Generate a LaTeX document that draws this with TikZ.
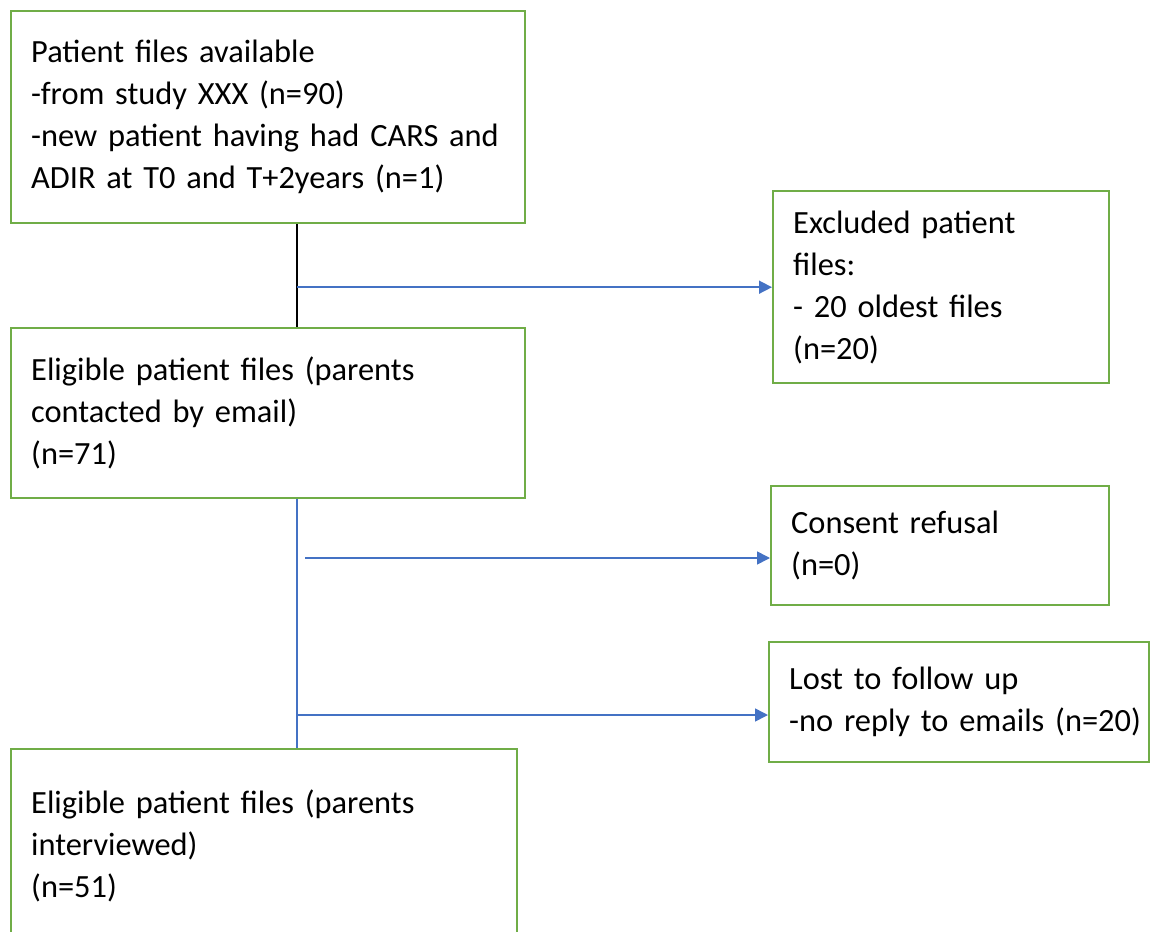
\documentclass[tikz,border=0pt]{standalone}
\usepackage{fontspec}
\setmainfont{Carlito}
\usetikzlibrary{arrows.meta}
\definecolor{boxgreen}{RGB}{112,173,71}
\definecolor{arrowblue}{RGB}{68,114,196}

\begin{document}
\begin{tikzpicture}[
      x=0.5pt,y=-0.5pt,
      flowbox/.style={
         rectangle,
         draw=boxgreen,
         line width=1.2pt,
         anchor=north west,
         align=left,
         inner xsep=10pt,
         inner ysep=2pt,
         font=\fontsize{16.2}{21}\selectfont},
      trunk/.style={line width=0.8pt},
      myarrow/.style={draw=arrowblue,line width=0.8pt,-{Triangle[length=6.5pt,width=6.5pt]}},
      ]
      \useasboundingbox (0,0) rectangle (1150,931);
      \node[flowbox,minimum width=257pt,minimum height=106pt,text width=237pt] (avail) at (10,10)
         {Patient files available\\-from study XXX (n=90)\\\mbox{-new patient having had CARS and}\\ADIR at T0 and T+2years (n=1)};
      \node[flowbox,minimum width=168pt,minimum height=96pt,text width=148pt] (excl) at (772,190)
         {Excluded patient\\files:\\- 20 oldest files\\(n=20)};
      \node[flowbox,minimum width=257pt,minimum height=85pt,text width=237pt] (elig) at (10,327)
         {Eligible patient files (parents\\contacted by email)\\(n=71)};
      \node[flowbox,minimum width=169pt,minimum height=59.5pt,text width=149pt] (refusal) at (770,485)
         {Consent refusal\\(n=0)};
      \node[flowbox,minimum width=190pt,minimum height=60pt,text width=170pt] (lost) at (768,641)
         {Lost to follow up\\\mbox{-no reply to emails (n=20)}};
      \node[flowbox,minimum width=253pt,minimum height=97pt,text width=233pt] (interv) at (10,748)
         {Eligible patient files (parents\\interviewed)\\(n=51)};
      % trunk lines and side exits
      \coordinate (sx) at (297,0);
      \coordinate (j2) at (305,558);
      \coordinate (j3) at (297,715);
      \draw[trunk] (avail.south -| sx) -- (elig.north -| sx);
      \draw[trunk,arrowblue] (elig.south -| sx) -- (interv.north -| sx);
      \draw[myarrow] (sx |- excl.west) -- (excl.west);
      \draw[myarrow] (j2) -- (j2 -| refusal.west);
      \draw[myarrow] (j3) -- (j3 -| lost.west);
\end{tikzpicture}
\end{document}
